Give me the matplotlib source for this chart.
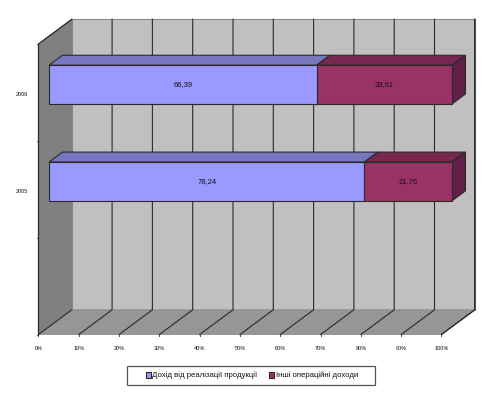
import matplotlib
matplotlib.use("Agg")
import matplotlib.pyplot as plt
from matplotlib.patches import Patch, Polygon, Rectangle

plt.rcParams['font.family'] = ['Liberation Sans', 'DejaVu Sans']

anios = ["2006", "2005"]
ingresos = [66.39, 78.24]
otros = [33.61, 21.76]
etiquetas_ingresos = ["66,39", "78,24"]
etiquetas_otros = ["33,61", "21,76"]
marcas_x = [0, 10, 20, 30, 40, 50, 60, 70, 80, 90, 100]
nombres = ["Дохід від реалізації продукції", "Інші операційні доходи"]

AZUL = "#9999ff"
AZUL_TAPA = "#7777c0"
VINO = "#993366"
VINO_TAPA = "#772850"
VINO_LADO = "#602048"
LINEA = "#2a2a2a"

# geometria de la caja 3D, en pixeles de la imagen
X0, X100 = 38.5, 441.5
Y_ARRIBA, Y_ABAJO = 44, 334.5
DX, DY = 33.3, -24.7
N_CATEGORIAS = 3
BARRA_FRENTE, BARRA_FONDO = 0.32, 0.72
ALTO_BARRA = 0.40


def proyectar(valor, categoria, prof):
    # valor en %, categoria en unidades de categoria desde arriba, prof de 0 a 1
    x = X0 + (X100 - X0) * valor / 100 + DX * prof
    y = Y_ARRIBA + (Y_ABAJO - Y_ARRIBA) * categoria / N_CATEGORIAS + DY * prof
    return x, y


def poligono(ax, puntos, color, borde=LINEA, lw=0.8, z=2):
    ax.add_patch(Polygon(puntos, closed=True, facecolor=color, edgecolor=borde,
                         linewidth=lw, zorder=z, joinstyle="miter"))


def dibujar_caja(ax):
    # pared del fondo, pared izquierda y piso
    poligono(ax, [proyectar(0, 0, 1), proyectar(100, 0, 1), proyectar(100, 3, 1), proyectar(0, 3, 1)],
             "#c0c0c0", borde="#8c8c8c", lw=0.8, z=1)
    poligono(ax, [proyectar(0, 0, 0), proyectar(0, 0, 1), proyectar(0, 3, 1), proyectar(0, 3, 0)],
             "#808080", borde="#707070", lw=0.6, z=1)
    poligono(ax, [proyectar(0, 3, 0), proyectar(100, 3, 0), proyectar(100, 3, 1), proyectar(0, 3, 1)],
             "#969696", borde="#8c8c8c", lw=0.6, z=1)

    for valor in marcas_x:
        xs, ys = zip(proyectar(valor, 3, 0), proyectar(valor, 3, 1), proyectar(valor, 0, 1))
        if valor == 0:
            xs, ys = xs[:2], ys[:2]
        ax.plot(xs, ys, color=LINEA, lw=0.8, zorder=1.5)
        ax.text(proyectar(valor, 3, 0)[0], 349, f"{valor}%", ha="center", va="center",
                fontsize=4, color="#111111")
        xt, yt = proyectar(valor, 3, 0)
        ax.plot([xt, xt], [yt, yt + 1.5], color=LINEA, lw=0.6, zorder=1.5)

    # borde izquierdo y derecho de la caja
    xs, ys = zip(proyectar(0, 3, 0), proyectar(0, 0, 0), proyectar(0, 0, 1))
    ax.plot(xs, ys, color=LINEA, lw=0.9, zorder=1.5)
    xs, ys = zip(proyectar(100, 0, 1), proyectar(100, 3, 1), proyectar(100, 3, 0))
    ax.plot(xs, ys, color=LINEA, lw=0.8, zorder=1.5)
    for c in range(N_CATEGORIAS + 1):
        xt, yt = proyectar(0, c, 0)
        ax.plot([xt - 1.5, xt], [yt, yt], color=LINEA, lw=0.6, zorder=1.5)


def dibujar_segmento(ax, inicio, fin, categoria, frente, tapa, lado=None):
    c0 = categoria + 0.5 - ALTO_BARRA / 2
    c1 = categoria + 0.5 + ALTO_BARRA / 2
    p0, p1 = BARRA_FRENTE, BARRA_FONDO
    poligono(ax, [proyectar(inicio, c0, p0), proyectar(fin, c0, p0),
                  proyectar(fin, c0, p1), proyectar(inicio, c0, p1)], tapa, z=3)
    poligono(ax, [proyectar(inicio, c0, p0), proyectar(fin, c0, p0),
                  proyectar(fin, c1, p0), proyectar(inicio, c1, p0)], frente, z=4)
    if lado is not None:
        poligono(ax, [proyectar(fin, c0, p0), proyectar(fin, c0, p1),
                      proyectar(fin, c1, p1), proyectar(fin, c1, p0)], lado, z=3)


def dibujar_barras(ax):
    for i, anio in enumerate(anios):
        dibujar_segmento(ax, 0, ingresos[i], i, AZUL, AZUL_TAPA)
        dibujar_segmento(ax, ingresos[i], 100, i, VINO, VINO_TAPA, VINO_LADO)

        xt, yt = proyectar(ingresos[i] / 2, i + 0.5, BARRA_FRENTE)
        ax.text(xt, yt + 0.5, etiquetas_ingresos[i], ha="center", va="center", fontsize=5.5,
                color="#111111", zorder=5)
        xt, yt = proyectar(ingresos[i] + otros[i] / 2, i + 0.5, BARRA_FRENTE)
        ax.text(xt, yt + 0.5, etiquetas_otros[i], ha="center", va="center", fontsize=5.5,
                color="#111111", zorder=5)

        _, yl = proyectar(0, i + 0.5, 0)
        ax.text(22, yl + 2, anio, ha="center", va="center", fontsize=4, color="#111111")


def dibujar_leyenda(ax):
    ax.add_patch(Rectangle((127, 366), 248, 19, facecolor="white", edgecolor="#555555",
                           linewidth=0.9, zorder=5))
    manijas = [Patch(facecolor=AZUL, edgecolor=LINEA, linewidth=0.8),
               Patch(facecolor=VINO, edgecolor=LINEA, linewidth=0.8)]
    leyenda = ax.legend(manijas, nombres, ncol=2, loc="center", bbox_to_anchor=(252, 375.5),
                        bbox_transform=ax.transData, fontsize=5.6, frameon=False,
                        handlelength=0.6, handleheight=0.8, handletextpad=0.2,
                        columnspacing=1.5, borderpad=0, borderaxespad=0)
    leyenda.set_zorder(6)
    for texto in leyenda.get_texts():
        texto.set_color("#111111")


fig = plt.figure(figsize=(5.01, 3.95), dpi=100)
ax = fig.add_axes([0, 0, 1, 1])
ax.set_xlim(0, 501)
ax.set_ylim(395, 0)
ax.axis("off")

dibujar_caja(ax)
dibujar_barras(ax)
dibujar_leyenda(ax)

fig.savefig("out.png", dpi=100)
